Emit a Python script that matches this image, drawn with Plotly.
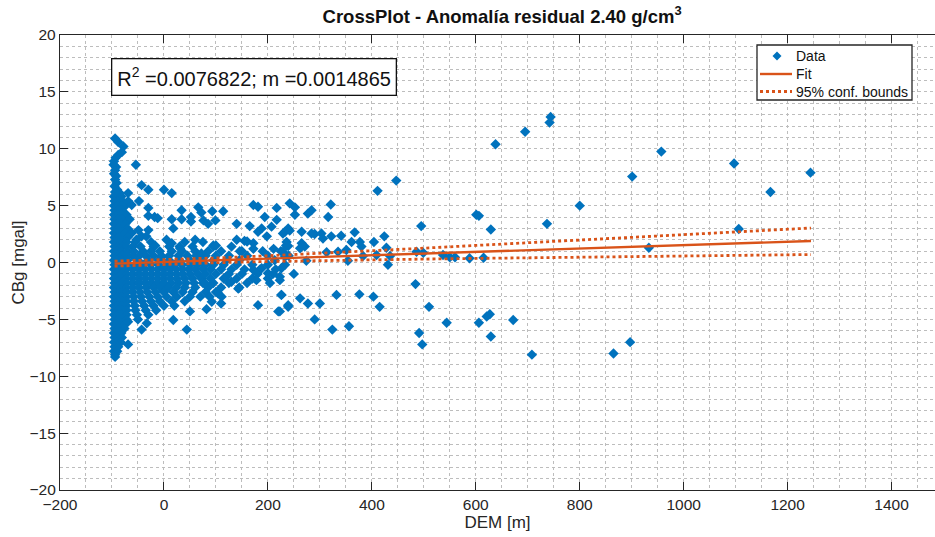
import plotly.graph_objects as go

# ---------------- data ----------------
# Dense part of the cloud, stored as rows: one y value and the x values found on it
ROW_Y = [5.8, 5.4, 5.0, 4.6, 4.2, 3.8, 3.4, 3.0, 2.6, 2.2, 1.8, 1.4, 1.0, 0.6, 0.2,
         -0.2, -0.6, -1.0, -1.4, -1.8, -2.2, -2.6, -3.0, -3.4, -3.8, -4.2, -4.6,
         -5.0, -5.4, -5.8, -6.2, -6.6, -7.0, -7.4, -7.8, -8.1]
ROW_X = [
    [-96, -89, -82],
    [-95, -88, -80],
    [-96, -89, -82, -74],
    [-95, -88, -81],
    [-96, -89, -82, -72],
    [-95, -88, -81, -66],
    [-96, -89, -82, -74],
    [-95, -88, -81, -70],
    [-96, -89, -82, -74, -62],
    [-95, -88, -81, -70],
    [-96, -89, -82, -72, -55, -25, 40, 75],
    [-95, -88, -81, -72, -60, -45, -20, 10, 30, 55, 95, 130],
    [-96, -89, -82, -70, -58, -40, -25, -8, 15, 35, 60, 85, 110, 150, 190],
    [-95, -88, -81, -72, -60, -48, -35, -20, -5, 10, 28, 45, 62, 80, 100, 125, 160, 200, 240],
    [-96, -89, -82, -70, -50, -30, -10, 10, 30, 50, 70, 95, 120, 145],
    [-95, -88, -81, -70, -55, -40, -25, -10, 5, 20, 35, 50, 65, 80, 95, 115, 140, 170, 200],
    [-96, -89, -82, -72, -60, -48, -36, -24, -12, 0, 12, 24, 36, 48, 60, 75, 90, 110, 130, 155, 185, 215],
    [-95, -88, -81, -72, -60, -48, -36, -24, -12, 0, 12, 24, 36, 50, 65, 80, 100, 125, 150, 180, 210, 250],
    [-96, -89, -82, -72, -60, -48, -36, -24, -12, 0, 12, 25, 40, 55, 72, 90, 115, 140, 170, 200],
    [-95, -88, -81, -72, -60, -48, -36, -24, -12, 0, 14, 28, 42, 58, 75, 95, 125, 160],
    [-96, -89, -82, -72, -60, -48, -34, -20, -6, 8, 24, 40, 60, 85, 110, 145],
    [-95, -88, -81, -72, -60, -46, -32, -16, 0, 18, 36, 55, 80, 100],
    [-96, -89, -82, -72, -58, -44, -28, -12, 5, 25, 50, 70],
    [-95, -88, -81, -72, -58, -42, -25, -8, 15, 40],
    [-96, -89, -82, -72, -56, -38, -20, 0, 20],
    [-95, -88, -81, -72, -55, -35, -15],
    [-96, -89, -82, -72, -52, -30],
    [-95, -88, -81, -72, -50],
    [-96, -89, -82, -74],
    [-95, -88, -81, -76],
    [-96, -89, -82],
    [-95, -88, -81],
    [-96, -89, -83],
    [-95, -88],
    [-96, -90],
    [-94],
]

# Scattered individual points (DEM [m], CBg [mgal])
SPARSE_X = [
    -94, -88, -78, -81, -88, -93, -96, -97, -92, -94, -96, -92, -94, -91, -95, -90, -85, -94,
    -54, -43, -30, -69, 0, 15, -48, -69, -62, -30, 34, 66, 72, 93, 114, -30, -18, -12, 15, 34,
    52, 52, 76, 99, 85, 18, -49, -30, -43, -53, -34, -17, 5, 15, 31, 60, 95, 100, 72, 140, 165,
    172, 181, 217, 194, 217, 188, 207, 181, 198, 140, 155, 160, 172, 229, 239, 242, 235, 225,
    146, 172, 211,
    447, 411, 252, 252, 277, 284, 321, 316, 233, 242, 265, 284, 290, 303, 306, 322, 341, 367,
    361, 377, 380, 404, 424, 428, 236, 239, 229, 265, 271, 262, 313, 335, 351, 274, 354, 383,
    409, 435, 486, 499, 537, 550, 560, 588, 431, 223, 233, 226, 495, 601, 484, 226, 262, 277,
    300, 239, 223, 332, 376, 403, 415, 290, 356, 324, 510, 544, 606, 491, 497,
    744, 742, 695, 638, 957, 1097, 901, 1244, 1167, 800, 606, 737, 629, 1106, 933, 615, 627,
    621, 672, 629, 708, 865, 897,
    -69, -33, -43, 18, 44, -69, -94, 50, 82, 92, 110, 111, 143, 178, 181, 220, 239, 204, 226,
    223, 172, 188, 200, 79, 88, 104, 130, 120, 213, 233, -4,
]
SPARSE_Y = [
    10.9, 10.6, 10.2, 9.7, 9.45, 9.2, 8.9, 8.6, 8.4, 8.1, 7.8, 7.6, 7.3, 7.0, 6.7, 6.4, 6.1, 6.2,
    8.6, 6.8, 6.4, 6.1, 6.4, 6.1, 5.4, 5.4, 5.05, 4.8, 4.6, 4.85, 4.4, 4.5, 4.5, 4.1, 4.0, 3.9,
    3.8, 3.8, 4.0, 3.6, 3.7, 3.7, 3.4, 3.0, 2.85, 2.85, 2.3, 2.0, 2.3, 1.5, 2.0, 1.7, 1.25, 2.0,
    1.5, 1.5, 0.8, 3.4, 3.2, 5.05, 4.9, 4.8, 4.0, 3.75, 3.0, 3.15, 2.7, 2.3, 2.0, 1.9, 1.85, 1.7,
    2.55, 3.0, 5.2, 1.5, 1.0, 1.0, 1.2, 1.2,
    7.2, 6.3, 4.85, 4.2, 4.3, 4.6, 5.1, 4.0, 2.7, 2.8, 2.7, 2.55, 2.5, 2.55, 2.1, 2.3, 2.35,
    2.65, 1.8, 1.8, 1.4, 1.8, 2.3, 1.3, 1.8, 1.45, 0.95, 1.7, 1.4, 1.25, 0.9, 0.95, 1.1, 0.15,
    0.15, 0.57, 0.65, 0.57, 0.95, 0.85, 0.66, 0.46, 0.46, 0.37, -0.2, -1.25, -0.2, -0.5, 3.2,
    4.2, -1.9, -2.85, -3.15, -3.6, -3.6, -3.9, -4.3, -2.85, -2.8, -3.0, -3.9, -5.0, -5.6, -5.9,
    -3.9, -5.3, -5.3, -6.2, -7.2,
    12.8, 12.3, 11.5, 10.4, 9.75, 8.7, 7.55, 7.9, 6.2, 5.0, 4.1, 3.4, 2.9, 2.95, 1.3, 0.42,
    -4.55, -4.75, -5.05, -6.5, -8.1, -8.0, -7.0,
    -5.2, -5.35, -5.9, -5.05, -5.9, -7.2, -8.3, -4.3, -4.1, -3.45, -3.6, -3.0, -2.3, -1.55,
    -3.75, -4.3, -3.75, -1.8, -2.85, -1.55, -0.65, -0.5, -0.95, -1.8, -3.0, -2.7, -1.7, -1.25,
    0.2, 0.5, 0.5,
]

# Linear fit and its 95 % confidence bounds
FIT_X = [-95, 1245]
FIT_Y = [-0.10, 1.89]
BOUND_X = [-95, 0, 100, 200, 300, 400, 500, 600, 700, 800, 900, 1000, 1100, 1245]
BOUND_UP = [0.12, 0.24, 0.40, 0.59, 0.80, 1.03, 1.26, 1.50, 1.74, 1.99, 2.23, 2.48, 2.72, 3.03]
BOUND_LO = [-0.32, -0.16, -0.02, 0.09, 0.18, 0.25, 0.30, 0.36, 0.42, 0.47, 0.53, 0.58, 0.64, 0.70]

X_TICKS = [-200, 0, 200, 400, 600, 800, 1000, 1200, 1400]
Y_TICKS = [-20, -15, -10, -5, 0, 5, 10, 15, 20]

TITLE = "CrossPlot - Anomalía residual 2.40 g/cm<sup>3</sup>"
STATS_TEXT = "R<sup>2</sup> =0.0076822; m =0.0014865"
LEGEND_LABELS = ["Data", "Fit", "95% conf. bounds"]

# ---------------- build ----------------
data_x, data_y = [], []
for yv, xs in zip(ROW_Y, ROW_X):
    for xv in xs:
        data_x.append(xv)
        data_y.append(yv)
data_x += SPARSE_X
data_y += SPARSE_Y

BLUE = "#0072BD"
ORANGE = "#D95319"
AXC = "#262626"
GRID = "#bdbdbd"
FONT = "Liberation Sans, Arial, Helvetica, sans-serif"

W, H = 935, 537
ML, MR, MT, MB = 60, 0, 35, 47
PW, PH = W - ML - MR, H - MT - MB


def px(xp):
    return (xp - ML) / PW


def py(yp):
    return 1 - (yp - MT) / PH


fig = go.Figure()
fig.add_trace(go.Scatter(
    x=data_x, y=data_y, mode="markers", name=LEGEND_LABELS[0],
    marker=dict(symbol="diamond", size=8, color=BLUE, line=dict(width=0)),
    showlegend=False,
))
fig.add_trace(go.Scatter(
    x=FIT_X, y=FIT_Y, mode="lines", name=LEGEND_LABELS[1],
    line=dict(color=ORANGE, width=2.4), showlegend=False,
))
for yb in (BOUND_UP, BOUND_LO):
    fig.add_trace(go.Scatter(
        x=BOUND_X, y=yb, mode="lines", name=LEGEND_LABELS[2],
        line=dict(color=ORANGE, width=2.8, dash="dot"), showlegend=False,
    ))

axis_common = dict(
    showline=True, linecolor=AXC, linewidth=1.3,
    ticks="inside", ticklen=8, tickwidth=1.3, tickcolor=AXC,
    showgrid=True, gridcolor=GRID, gridwidth=1, griddash="dot",
    zeroline=False,
    tickfont=dict(family=FONT, size=15.5, color=AXC),
)

fig.update_layout(
    width=W, height=H,
    margin=dict(l=ML, r=MR, t=MT, b=MB),
    paper_bgcolor="white", plot_bgcolor="white",
    font=dict(family=FONT, color=AXC),
    title=dict(text="<b>" + TITLE + "</b>", x=0.537, xanchor="center",
               y=0.982, yanchor="top",
               font=dict(family=FONT, size=18.5, color="#111111")),
    xaxis=dict(
        range=[-200, 1483.6], tickvals=X_TICKS, mirror="ticks",
        title=dict(text="DEM [m]", font=dict(family=FONT, size=17, color=AXC), standoff=2),
        minor=dict(dtick=50, tick0=0, showgrid=True, gridcolor=GRID, griddash="dot", gridwidth=1, ticks=""),
        **axis_common,
    ),
    yaxis=dict(
        range=[-20, 20], tickvals=Y_TICKS, mirror=False,
        title=dict(text="CBg [mgal]", font=dict(family=FONT, size=17, color=AXC), standoff=0),
        minor=dict(dtick=1, tick0=0, showgrid=True, gridcolor=GRID, griddash="dot", gridwidth=1, ticks=""),
        **axis_common,
    ),
    showlegend=False,
)

# statistics box
fig.add_annotation(
    x=-102, y=17.95, xref="x", yref="y", xanchor="left", yanchor="top",
    text=STATS_TEXT, showarrow=False,
    font=dict(family=FONT, size=20, color="#111111"),
    bgcolor="white", bordercolor="#111111", borderwidth=1.3, borderpad=5,
)

# legend box (drawn by hand so that its rows are as tight as in the reference)
fig.add_shape(type="rect", xref="paper", yref="paper",
              x0=px(757), x1=px(912), y0=py(100), y1=py(45),
              fillcolor="white", line=dict(color=AXC, width=1.3), layer="above")
row_y = [56, 74, 91.5]
# diamond sample
cx, cy, r = 777, row_y[0], 4.5
fig.add_shape(type="path", xref="paper", yref="paper",
              path=(f"M {px(cx - r)} {py(cy)} L {px(cx)} {py(cy - r)} "
                    f"L {px(cx + r)} {py(cy)} L {px(cx)} {py(cy + r)} Z"),
              fillcolor=BLUE, line=dict(width=0), layer="above")
fig.add_shape(type="line", xref="paper", yref="paper",
              x0=px(760), x1=px(792), y0=py(row_y[1]), y1=py(row_y[1]),
              line=dict(color=ORANGE, width=2.4), layer="above")
fig.add_shape(type="line", xref="paper", yref="paper",
              x0=px(760), x1=px(792), y0=py(row_y[2]), y1=py(row_y[2]),
              line=dict(color=ORANGE, width=2.8, dash="dot"), layer="above")
for lab, ry in zip(LEGEND_LABELS, row_y):
    fig.add_annotation(x=px(794), y=py(ry), xref="paper", yref="paper",
                       xanchor="left", yanchor="middle", text=lab, showarrow=False,
                       font=dict(family=FONT, size=14, color="#111111"))

fig.write_html("out.html")
